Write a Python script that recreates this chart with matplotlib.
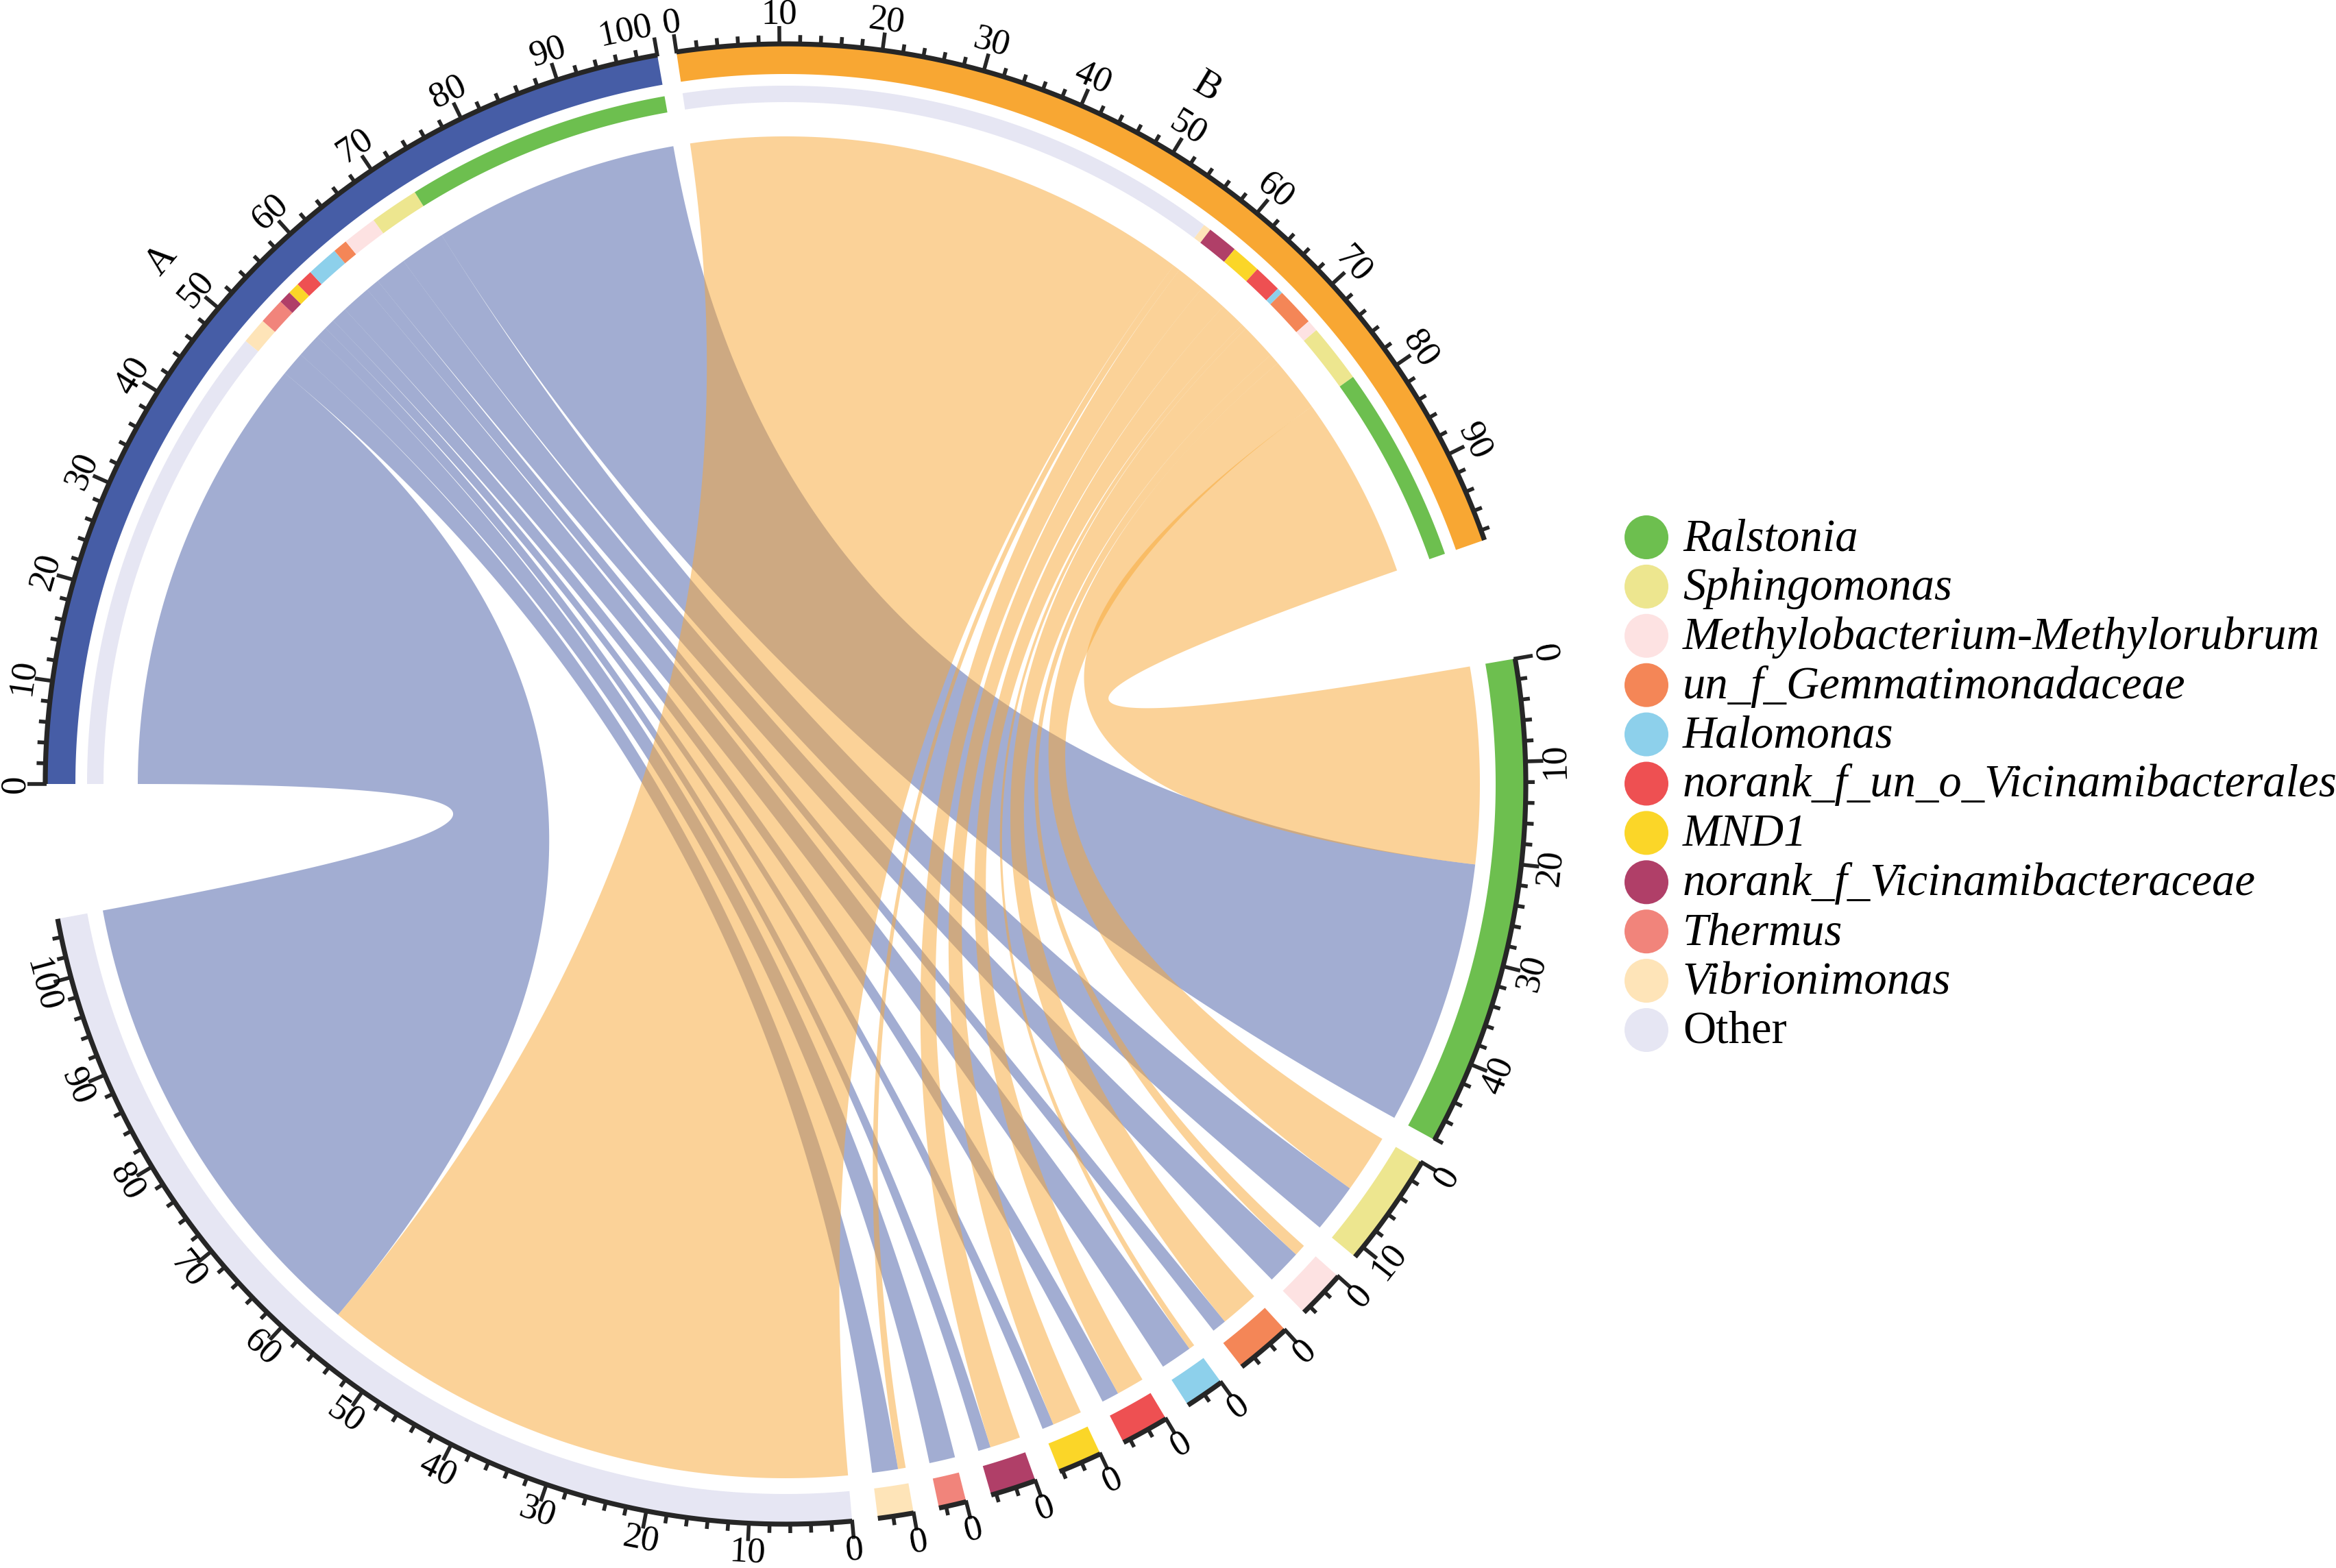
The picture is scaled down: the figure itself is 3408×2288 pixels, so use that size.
import numpy as np
import matplotlib.pyplot as plt
from matplotlib.patches import Polygon, Ellipse

plt.rcParams['font.family'] = ['Liberation Serif', 'DejaVu Serif']

# --- relative abundance (%) of each genus in the two samples ---
samples = ['A', 'B']
sample_colors = ['#465DA6', '#F8A733']
genera = ['Ralstonia', 'Sphingomonas', 'Methylobacterium-Methylorubrum',
          'un_f_Gemmatimonadaceae', 'Halomonas', 'norank_f_un_o_Vicinamibacterales',
          'MND1', 'norank_f_Vicinamibacteraceae', 'Thermus', 'Vibrionimonas', 'Other']
genus_colors = ['#6DBF4F', '#EDE68F', '#FDE2E2', '#F48657', '#8DD0EB', '#EE5052',
                '#FBD628', '#B03F68', '#F1847B', '#FEE4B8', '#E6E6F3']
abund_A = [27.6, 5.1, 3.6, 1.5, 3.3, 1.8, 1.2, 1.3, 2.7, 2.7, 49.2]
abund_B = [20.5, 6.1, 1.2, 4.0, 0.6, 2.9, 3.1, 3.2, 0.0, 0.8, 56.6]

# --- canvas in pixel coordinates ---
W, H = 3408, 2288
cx, cy = 1146, 1144
R = 1080
fig = plt.figure(figsize=(W / 200, H / 200), dpi=200)
ax = fig.add_axes([0, 0, 1, 1])
ax.set_xlim(0, W)
ax.set_ylim(H, 0)
ax.axis('off')

# --- sector layout (clockwise from 9 o'clock) ---
sectors = samples + genera
sizes = [sum(abund_A), sum(abund_B)] + [a + b for a, b in zip(abund_A, abund_B)]
gaps = [1.5, 9.5] + [2] * (len(genera) - 1) + [10.5]
unit = (360 - sum(gaps)) / sum(sizes)
starts = []
t = 180.0
for s, g in zip(sizes, gaps):
    starts.append(t)
    t -= s * unit + g


def ang(i, x):
    return starts[i] - x * unit


def pt(theta, r):
    th = np.radians(np.atleast_1d(theta))
    return np.column_stack([cx + r * np.cos(th), cy - r * np.sin(th)])


def band(t1, t2, r1, r2, color, z=3):
    ts = np.linspace(t1, t2, max(int(abs(t2 - t1) * 6), 2))
    pts = np.vstack([pt(ts, r2), pt(ts[::-1], r1)])
    ax.add_patch(Polygon(pts, closed=True, facecolor=color, edgecolor='none', zorder=z))


def bez(p0, p2, n=150):
    s = np.linspace(0, 1, n)[:, None]
    c = np.array([cx, cy])
    return (1 - s) ** 2 * p0 + 2 * (1 - s) * s * c + s ** 2 * p2


# --- links + inner grid track of the samples ---
r_s, r_g = 945, 1013
for si, vals in enumerate([abund_A, abund_B]):
    pos = 0
    for k in reversed(range(len(genera))):
        v = vals[k]
        if v <= 0:
            continue
        a1, a2 = ang(si, pos), ang(si, pos + v)
        off = 0 if si == 1 else abund_B[k]
        gi = 2 + k
        b1, b2 = ang(gi, off), ang(gi, off + v)
        band(a1, a2, 995, 1019, genus_colors[k])
        arc1 = pt(np.linspace(a1, a2, 80), r_s)
        arc2 = pt(np.linspace(b1, b2, 80), r_g)
        poly = np.vstack([arc1, bez(arc1[-1], arc2[0]), arc2, bez(arc2[-1], arc1[0])])
        ax.add_patch(Polygon(poly, closed=True, facecolor=sample_colors[si],
                             alpha=0.5, edgecolor='none', zorder=1 + si))
        pos += v

# --- outer bars, axis, ticks and labels ---
fs_tick = 19
r_lab = R + 43
for i in range(len(sectors)):
    col = sample_colors[i] if i < 2 else genus_colors[i - 2]
    band(starts[i], ang(i, sizes[i]), 1036, 1078, col)

    p = pt(np.linspace(starts[i], ang(i, sizes[i]), 200), R)
    ax.plot(p[:, 0], p[:, 1], color='#262626', lw=2.6, solid_capstyle='butt', zorder=4)
    last = int(sizes[i]) // 10 * 10
    for x in range(0, int(sizes[i]) + 1, 2):
        th = ang(i, x)
        major = x % 10 == 0
        L = 26 if major else 13
        q = np.vstack([pt(th, R - 2), pt(th, R + L)])
        ax.plot(q[:, 0], q[:, 1], color='#262626', lw=2.0, solid_capstyle='butt', zorder=4)
        if major:
            tl = th
            if x == last and x > 0:
                # keep the last label inside the sector end
                half = len(str(x)) * 0.25 * fs_tick * 200 / 72
                room = np.radians((sizes[i] - x) * unit) * r_lab
                if room < half:
                    tl = th + np.degrees((half - room) / r_lab)
            lp = pt(tl, r_lab)[0]
            tt = tl % 360
            rot = tl - 90 if 5 <= tt < 185 else tl + 90
            ax.text(lp[0], lp[1], str(x), rotation=rot, rotation_mode='anchor',
                    ha='center', va='center', fontsize=fs_tick, zorder=5)

for i, name in enumerate(samples):
    th = ang(i, sizes[i] / 2)
    lp = pt(th, 1188)[0]
    ax.text(lp[0], lp[1], name, rotation=th - 90, rotation_mode='anchor',
            ha='center', va='center', fontsize=20, zorder=5)

# --- legend ---
for j, (g, c) in enumerate(zip(genera, genus_colors)):
    y = 784 + j * 71.9
    ax.add_patch(Ellipse((2402, y), 64, 64, facecolor=c, edgecolor='none'))
    ax.text(2455, y + 19, g, fontsize=24, style='normal' if g == 'Other' else 'italic',
            ha='left', va='baseline')

fig.savefig('out.png', dpi=200)
